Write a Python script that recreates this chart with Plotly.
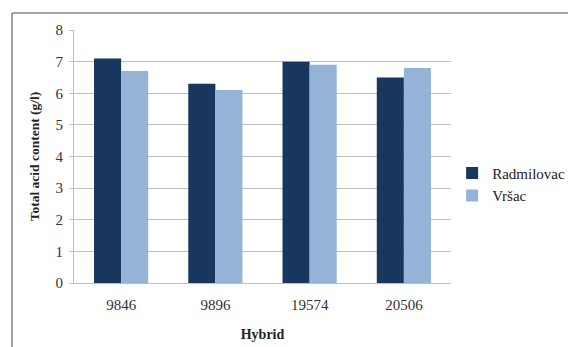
import plotly.graph_objects as go

categories = ["9846", "9896", "19574", "20506"]
radmilovac = [7.1, 6.3, 7.0, 6.5]
vrsac = [6.7, 6.1, 6.9, 6.8]
series_names = ["Radmilovac", "Vršac"]

FONT = "Liberation Serif"
L, R, T, B = 74, 117, 30, 64
W, H = 568, 347
pw, ph = W - L - R, H - T - B

fig = go.Figure()
fig.add_trace(go.Bar(x=categories, y=radmilovac, name=series_names[0],
                     marker=dict(color="#17375E", line=dict(width=0))))
fig.add_trace(go.Bar(x=categories, y=vrsac, name=series_names[1],
                     marker=dict(color="#95B3D7", line=dict(width=0))))

fig.update_layout(
    width=W, height=H,
    margin=dict(l=L, r=R, t=T, b=B, autoexpand=False),
    paper_bgcolor="white", plot_bgcolor="white",
    barmode="group", bargap=0.425, bargroupgap=0,
    font=dict(family=FONT, size=15, color="#222"),
    showlegend=True,
    legend=dict(x=1.003, y=0.39, xanchor="left", yanchor="middle",
                font=dict(family=FONT, size=15, color="#222"),
                itemwidth=30, tracegroupgap=3, bgcolor="rgba(0,0,0,0)"),
    xaxis=dict(
        showgrid=False, showline=True, linecolor="#BFBFBF", linewidth=1,
        ticks="", ticklabelstandoff=8,
        tickfont=dict(family=FONT, size=15, color="#333"),
        title=dict(text="<b>Hybrid</b>", font=dict(family=FONT, size=14, color="#222"), standoff=17),
    ),
    yaxis=dict(
        range=[0, 8], dtick=1, showgrid=True, gridcolor="#BFBFBF", gridwidth=1,
        showline=True, linecolor="#BFBFBF", linewidth=1,
        ticks="outside", ticklen=4, tickcolor="#BFBFBF", ticklabelstandoff=3,
        tickfont=dict(family=FONT, size=15, color="#333"),
        zeroline=False,
        title=dict(text="<b>Total acid content (g/l)</b>", font=dict(family=FONT, size=13.5, color="#222"), standoff=12),
    ),
)

# outer border (top and left visible)
x_left = (12 - L) / pw
y_top = (H - B - 13) / ph
fig.add_shape(type="line", xref="paper", yref="paper", x0=x_left, x1=3, y0=y_top, y1=y_top,
              line=dict(color="#868686", width=1.5))
fig.add_shape(type="line", xref="paper", yref="paper", x0=x_left, x1=x_left, y0=y_top, y1=-3,
              line=dict(color="#868686", width=1.5))

fig.write_html("out.html")
